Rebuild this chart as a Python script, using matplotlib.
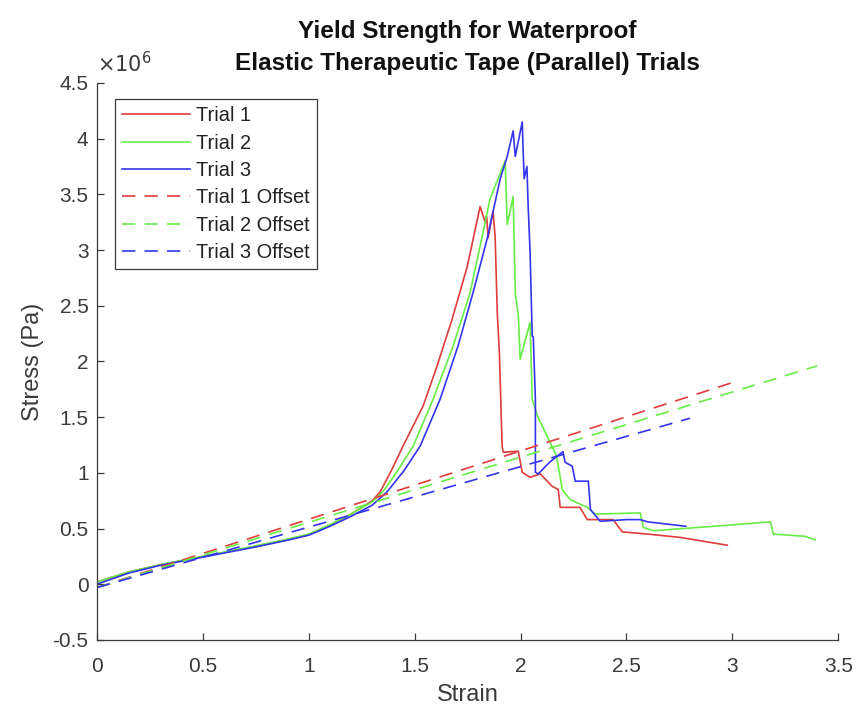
import numpy as np
import matplotlib.pyplot as plt
from matplotlib.ticker import FuncFormatter

plt.rcParams['font.family'] = ['Liberation Sans', 'DejaVu Sans']

# strain / stress (MPa) for each trial
strain1 = [0, 0.15, 0.3, 0.45, 0.6, 0.75, 0.9, 1.0, 1.1, 1.2, 1.3, 1.337, 1.39, 1.445, 1.54, 1.606,
           1.677, 1.748, 1.809, 1.833, 1.84, 1.847, 1.87, 1.88, 1.89, 1.90, 1.913, 1.918, 1.989, 2.008,
           2.045, 2.093, 2.149, 2.178, 2.187, 2.28, 2.315, 2.437, 2.48, 2.60, 2.754, 2.976]
stress1 = [0.02, 0.11, 0.175, 0.23, 0.285, 0.34, 0.40, 0.445, 0.53, 0.63, 0.75, 0.83, 1.02, 1.24, 1.60,
           1.96, 2.38, 2.85, 3.39, 3.25, 3.30, 3.11, 3.35, 3.12, 2.44, 2.08, 1.24, 1.185, 1.194, 1.005,
           0.96, 0.99, 0.88, 0.85, 0.69, 0.69, 0.58, 0.58, 0.47, 0.45, 0.42, 0.35]

strain2 = [0, 0.15, 0.3, 0.45, 0.6, 0.75, 0.9, 1.0, 1.1, 1.2, 1.3, 1.35, 1.42, 1.493, 1.587, 1.682,
           1.762, 1.823, 1.856, 1.927, 1.937, 1.965, 1.975, 1.99, 1.998, 2.045, 2.055, 2.08, 2.125, 2.17,
           2.197, 2.234, 2.315, 2.352, 2.565, 2.58, 2.626, 2.91, 3.18, 3.193, 3.344, 3.39]
stress2 = [0.02, 0.11, 0.175, 0.232, 0.288, 0.345, 0.405, 0.45, 0.535, 0.63, 0.74, 0.83, 1.02, 1.24, 1.66,
           2.14, 2.62, 3.16, 3.46, 3.80, 3.23, 3.48, 2.62, 2.40, 2.02, 2.35, 1.66, 1.51, 1.33, 1.15,
           0.85, 0.76, 0.69, 0.63, 0.64, 0.51, 0.48, 0.52, 0.56, 0.45, 0.43, 0.40]

strain3 = [0, 0.15, 0.3, 0.45, 0.6, 0.75, 0.9, 1.0, 1.1, 1.2, 1.3, 1.37, 1.45, 1.526, 1.62, 1.705,
           1.776, 1.842, 1.904, 1.937, 1.965, 1.975, 2.008, 2.012, 2.017, 2.03, 2.036, 2.045, 2.055, 2.06,
           2.07, 2.07, 2.083, 2.14, 2.20, 2.21, 2.244, 2.258, 2.32, 2.33, 2.376, 2.50, 2.565, 2.60, 2.78]
stress3 = [0.00, 0.10, 0.17, 0.225, 0.28, 0.335, 0.395, 0.44, 0.52, 0.61, 0.71, 0.83, 1.02, 1.24, 1.66,
           2.14, 2.62, 3.10, 3.64, 3.84, 4.07, 3.84, 4.15, 3.90, 3.64, 3.75, 3.39, 2.98, 2.23,
           2.22, 1.66, 1.005, 0.99, 1.10, 1.19, 1.095, 1.06, 0.925, 0.925, 0.67, 0.565, 0.58, 0.58, 0.56, 0.52]

# 0.05 offset lines: [start, end]
offset_strain = [[0, 3.0], [0, 3.4], [0, 2.8]]
offset_stress = [[-0.03, 1.81], [-0.03, 1.96], [-0.03, 1.49]]

labels = ['Trial 1', 'Trial 2', 'Trial 3']
colors = ['#e03c3c', '#66ee44', '#3434ee']
ink = '#3a3a3a'

fig = plt.figure(figsize=(8.58, 7.19), dpi=100)
ax = fig.add_axes([0.113, 0.110, 0.864, 0.7746])

for x, y, c, lab in zip([strain1, strain2, strain3], [stress1, stress2, stress3], colors, labels):
    ax.plot(x, np.array(y) * 1e6, color=c, lw=1.2, label=lab)
for x, y, c, lab in zip(offset_strain, offset_stress, colors, labels):
    ax.plot(x, np.array(y) * 1e6, color=c, lw=1.2, ls=(0, (8, 5.5)), label=lab + ' Offset')

ax.set_xlim(0, 3.5)
ax.set_ylim(-0.5e6, 4.5e6)
ax.set_xticks(np.arange(0, 3.51, 0.5))
ax.set_yticks(np.arange(-0.5e6, 4.51e6, 0.5e6))
ax.xaxis.set_major_formatter(FuncFormatter(lambda v, p: f'{v:g}'))
ax.yaxis.set_major_formatter(FuncFormatter(lambda v, p: f'{v / 1e6:g}'))
ax.tick_params(direction='in', length=5, labelsize=15, colors=ink, width=0.9)
ax.tick_params(axis='x', pad=12)
ax.tick_params(axis='y', pad=6)
for s in ['top', 'right']:
    ax.spines[s].set_visible(False)
for s in ['left', 'bottom']:
    ax.spines[s].set_color(ink)
    ax.spines[s].set_linewidth(0.9)

ax.text(0, 1.012, r'$\times10^{6}$', transform=ax.transAxes, fontsize=15, color=ink,
        va='bottom', ha='left')

ax.set_xlabel('Strain', fontsize=17, color=ink, labelpad=6)
ax.set_ylabel('Stress (Pa)', fontsize=17, color=ink, labelpad=6)
ax.set_title('Yield Strength for Waterproof\nElastic Therapeutic Tape (Parallel) Trials',
             fontsize=17.5, fontweight='bold', pad=9, linespacing=1.55, color='#111111')

leg = ax.legend(loc='upper left', bbox_to_anchor=(0.0243, 0.971), borderaxespad=0, fontsize=14.4,
                handlelength=3.4, frameon=True, fancybox=False, framealpha=1, edgecolor=ink,
                borderpad=0.35, labelspacing=0.42, handletextpad=0.3)
leg.get_frame().set_linewidth(0.9)
for t in leg.get_texts():
    t.set_color('#222222')

fig.savefig('out.png', dpi=100)
